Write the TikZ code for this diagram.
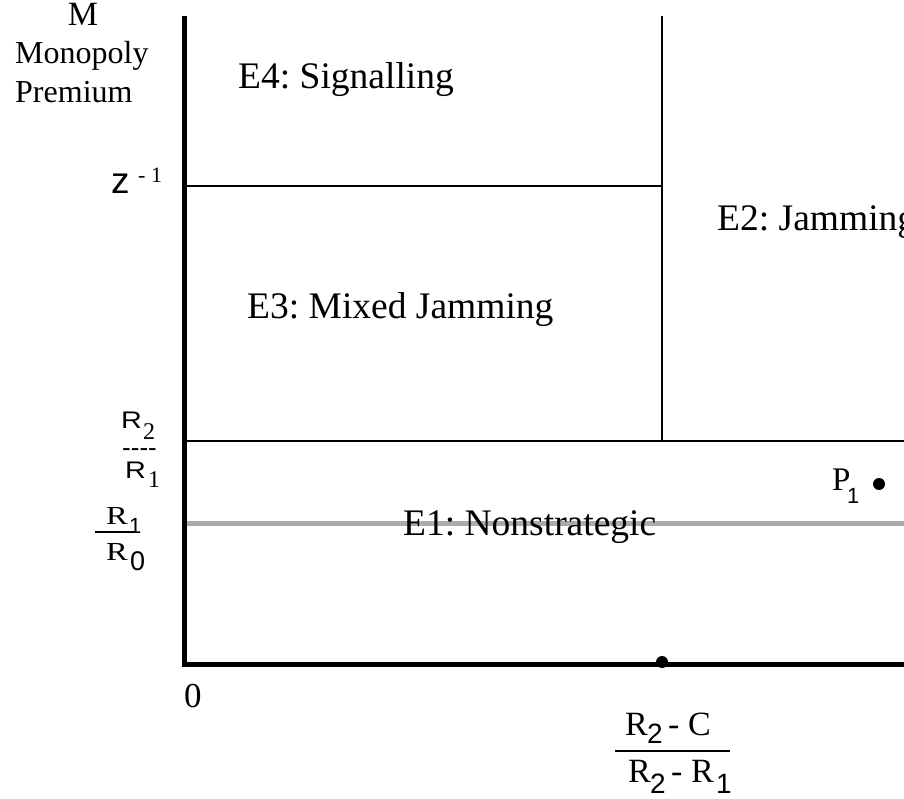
\documentclass[tikz,border=0pt]{standalone}
\usepackage{fontspec}
\setmainfont{Liberation Serif}
\setsansfont{Liberation Sans}
\usetikzlibrary{positioning}

\newcommand{\fsz}[1]{\fontsize{#1}{#1}\selectfont}
\frenchspacing

\begin{document}
\begin{tikzpicture}[x=1pt, y=-1pt,
  txt/.style={inner sep=0pt, anchor=base west},
  region/.style={txt, font=\fsz{37.5}},
  axislab/.style={txt, font=\fsz{32}},
  axis/.style={line width=5pt},
  bound/.style={line width=2.4pt},
  band/.style={line width=5pt, draw=black!33},
  dotmark/.style={circle, fill, inner sep=0pt, minimum size=12pt},
]
\clip (0,0) rectangle (904,799);

% === Axes and region boundaries ===
\coordinate (ytop) at (184,16);
\coordinate (origin) at (184,664);
\coordinate (xend) at (904,664);
\coordinate (midtop) at (662,16);
\coordinate (midlow) at (662,441);
\coordinate (zleft) at (184,186);
\coordinate (zright) at (662,186);
\coordinate (rleft) at (184,441);
\coordinate (rright) at (904,441);
\coordinate (gleft) at (184,523);
\coordinate (gright) at (904,523);

\draw[band] (gleft) -- (gright);
\draw[bound] (midtop) -- (midlow);
\draw[bound] (zleft) -- (zright);
\draw[bound] (rleft) -- (rright);
\draw[axis] (ytop) -- (origin) -- (xend);

\node[dotmark] (cut) at (662,662) {};
\node[dotmark] (p1) at (879,484) {};

% === Regions ===
\node[region] (e4) at (238,89) {E4: Signalling};
\node[region] (e3) at (247,319) {E3: Mixed Jamming};
\node[region] (e2) at (717,231) {E2: Jamming};
\node[region] (e1) at (403,535) {E1: Nonstrategic};

\node[txt, font=\fsz{33}] (p1lab) at (832,490) {P};
\node[txt, font=\sffamily\fsz{22}] (p1sub) at (847,503) {1};

% === Vertical axis labels ===
\node[txt, anchor=base, font=\fsz{34}] (mlab) at (83,26) {M};
\node[axislab] (mono) at (15,64) {Monopoly};
\node[axislab] (prem) at (15,103) {Premium};

\node[txt, font=\sffamily\fsz{37}] (zlab) at (111,194) {z};
\node[txt, font=\fsz{22}] (zexp) at (138,183) {- 1};

\node[txt, font=\sffamily\fsz{24}] (r2up) at (121,428) {\scalebox{1.2}[1]{R}};
\node[txt, font=\fsz{24}] (r2upsub) at (143,439) {2};
\node[txt, font=\sffamily\fsz{26}] (rdash) at (122,456) {-{}-{}-{}-};
\node[txt, font=\sffamily\fsz{24}] (r1dn) at (125,478) {\scalebox{1.2}[1]{R}};
\node[txt, font=\fsz{24}] (r1dnsub) at (148,487) {1};

\node[txt, font=\fsz{26}] (r1up) at (106,524) {\scalebox{1.25}[1]{R}};
\node[txt, font=\sffamily\fsz{22}] (r1upsub) at (129,533) {1};
\coordinate (fracl) at (95,532);
\coordinate (fracr) at (135,532);
\draw[line width=1.2pt] (fracl) -- (fracr);
\node[txt, font=\fsz{26}] (r0dn) at (106,560) {\scalebox{1.25}[1]{R}};
\node[txt, font=\sffamily\fsz{27}] (r0dnsub) at (130,570) {0};

% === Horizontal axis labels ===
\node[txt, font=\fsz{35}] (zero) at (184,707) {0};

\node[txt, font=\fsz{34}] (numr) at (625,735) {R};
\node[txt, font=\sffamily\fsz{28}] (numsub) at (647,743) {2};
\node[txt, font=\fsz{34}] (numc) at (668,735) {- C};
\coordinate (xfracl) at (615,751);
\coordinate (xfracr) at (730,751);
\draw[line width=1.5pt] (xfracl) -- (xfracr);
\node[txt, font=\fsz{34}] (denr) at (628,782) {R};
\node[txt, font=\sffamily\fsz{28}] (densub) at (650,793) {2};
\node[txt, font=\fsz{34}] (denr1) at (671,782) {- R};
\node[txt, font=\sffamily\fsz{28}] (densub1) at (716,793) {1};

\end{tikzpicture}
\end{document}
